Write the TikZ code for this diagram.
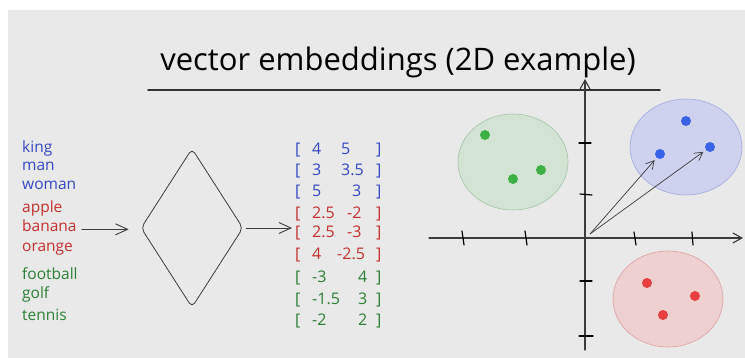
\documentclass[tikz,border=0pt]{standalone}
\usepackage{fontspec}
\setmainfont{Open Sans}
\usetikzlibrary{shapes.geometric,arrows.meta}
\definecolor{bgray}{RGB}{233,233,233}
\definecolor{ink}{RGB}{60,60,60}
\definecolor{wblue}{RGB}{52,72,196}
\definecolor{wred}{RGB}{196,48,44}
\definecolor{wgreen}{RGB}{42,128,52}
\definecolor{dblue}{RGB}{58,98,232}
\definecolor{dred}{RGB}{232,64,64}
\definecolor{dgreen}{RGB}{60,176,68}
\definecolor{fblue}{RGB}{206,210,238}
\definecolor{fred}{RGB}{238,208,208}
\definecolor{fgreen}{RGB}{212,228,212}

\begin{document}
\begin{tikzpicture}[x=1pt,y=-1pt,line cap=round,line join=round,
		word/.style={anchor=base west,inner sep=1pt,font=\fontsize{15.5}{15.5}\selectfont},
		num/.style={anchor=base west,inner sep=1pt,font=\fontsize{16}{16}\selectfont},
		arr/.style={ink,line width=0.9pt,-{Straight Barb[length=12pt,width=11pt]}},
		vec/.style={ink,line width=0.7pt,-{Straight Barb[length=8pt,width=9pt]}},
		axis/.style={ink,line width=1.1pt,-{Straight Barb[length=9pt,width=10pt]}},
		tick/.style={black,line width=1.2pt},
		dot/.style={circle,inner sep=0pt,minimum size=10pt}]
				\useasboundingbox (0,0) rectangle (745,358);
				\fill [white] (0,0) rectangle (745,358);
				\fill [bgray] (8,10) rectangle (745,358);
				% title
				\node [anchor=base,font=\fontsize{31}{31}\selectfont] (title) at (398,71) {vector embeddings (2D example)};
				\draw [line width=1.6pt,black!80] (148,90) -- (660,90);
				% words
				\node [word,wblue] (king) at (21,153) {king};
				\node [word,wblue] (man) at (21,171) {man};
				\node [word,wblue] (woman) at (21,190) {woman};
				\node [word,wred] (apple) at (21,213) {apple};
				\node [word,wred] (banana) at (21,232) {banana};
				\node [word,wred] (orange) at (21,252) {orange};
				\node [word,wgreen] (football) at (21,280) {football};
				\node [word,wgreen] (golf) at (21,299) {golf};
				\node [word,wgreen] (tennis) at (21,321) {tennis};
				% model
				\node [draw,diamond,inner sep=0pt,minimum width=102pt,minimum height=159pt,rounded corners=5pt,line width=0.8pt,ink] (enc) at (192,228) {};
				\draw [arr,shorten <=4pt,shorten >=12pt] (banana.mid east) -- (banana.mid east -| enc.west);
				% vectors
				\node [num,wblue] (lb1) at (294,155) {[};
				\node [num,wblue] (a1) at (311,155) {4};
				\node [num,wblue] (b1) at (340,155) {5};
				\node [num,wblue] (rb1) at (375,155) {]};
				\node [num,wblue] (lb2) at (294,176) {[};
				\node [num,wblue] (a2) at (311,176) {3};
				\node [num,wblue] (b2) at (340,176) {3.5};
				\node [num,wblue] (rb2) at (375,176) {]};
				\node [num,wblue] (lb3) at (294,197) {[};
				\node [num,wblue] (a3) at (311,197) {5};
				\node [num,wblue] (b3) at (351,197) {3};
				\node [num,wblue] (rb3) at (375,197) {]};
				\node [num,wred] (lb4) at (294,219) {[};
				\node [num,wred] (a4) at (311,219) {2.5};
				\node [num,wred] (b4) at (346,219) {-2};
				\node [num,wred] (rb4) at (375,219) {]};
				\node [num,wred] (lb5) at (294,238) {[};
				\node [num,wred] (a5) at (311,238) {2.5};
				\node [num,wred] (b5) at (346,238) {-3};
				\node [num,wred] (rb5) at (375,238) {]};
				\node [num,wred] (lb6) at (294,260) {[};
				\node [num,wred] (a6) at (311,260) {4};
				\node [num,wred] (b6) at (336,260) {-2.5};
				\node [num,wred] (rb6) at (375,260) {]};
				\node [num,wgreen] (lb7) at (294,283) {[};
				\node [num,wgreen] (a7) at (311,283) {-3};
				\node [num,wgreen] (b7) at (357,283) {4};
				\node [num,wgreen] (rb7) at (375,283) {]};
				\node [num,wgreen] (lb8) at (294,305) {[};
				\node [num,wgreen] (a8) at (311,305) {-1.5};
				\node [num,wgreen] (b8) at (357,305) {3};
				\node [num,wgreen] (rb8) at (375,305) {]};
				\node [num,wgreen] (lb9) at (294,326) {[};
				\node [num,wgreen] (a9) at (311,326) {-2};
				\node [num,wgreen] (b9) at (357,326) {2};
				\node [num,wgreen] (rb9) at (375,326) {]};
				\draw [arr,shorten <=3pt,shorten >=2pt] (enc.east) -- (enc.east -| lb5.west);
				% clusters
				\filldraw [fill=fgreen,draw=wgreen!30!fgreen,line width=0.6pt] (513,162) ellipse [x radius=55pt,y radius=48pt];
				\filldraw [fill=fblue,draw=wblue!30!fblue,line width=0.6pt] (686,147) ellipse [x radius=56pt,y radius=48pt];
				\filldraw [fill=fred,draw=wred!30!fred,line width=0.6pt] (668,299) ellipse [x radius=55pt,y radius=48pt];
				% axes
				\coordinate (xleft) at (429,238);
				\coordinate (xright) at (743,238);
				\coordinate (ybottom) at (585,350);
				\coordinate (ytop) at (585,79);
				\coordinate (O) at (590,234);
				\draw [axis] (xleft) -- (xright);
				\draw [axis] (ybottom) -- (ytop);
				\draw [tick] (462,231) -- (464,245);
				\draw [tick] (525,231) -- (527,245);
				\draw [tick] (634,232) -- (636,245);
				\draw [tick] (692,232) -- (693,245);
				\draw [tick] (579,143) -- (591,143);
				\draw [tick] (580,194) -- (592,195);
				\draw [tick] (580,281) -- (592,281);
				\draw [tick] (579,336) -- (593,336);
				% points
				\node [dot,fill=dgreen] (g1) at (485,135) {};
				\node [dot,fill=dgreen] (g2) at (513,179) {};
				\node [dot,fill=dgreen] (g3) at (541,170) {};
				\node [dot,fill=dblue] (p1) at (686,121) {};
				\node [dot,fill=dblue] (p2) at (660,154) {};
				\node [dot,fill=dblue] (p3) at (710,147) {};
				\node [dot,fill=dred] (r1) at (647,283) {};
				\node [dot,fill=dred] (r2) at (695,296) {};
				\node [dot,fill=dred] (r3) at (663,315) {};
				\draw [vec,shorten >=3pt] (O) -- (p2);
				\draw [vec,shorten >=3pt] (O) -- (p3);
\end{tikzpicture}
\end{document}
